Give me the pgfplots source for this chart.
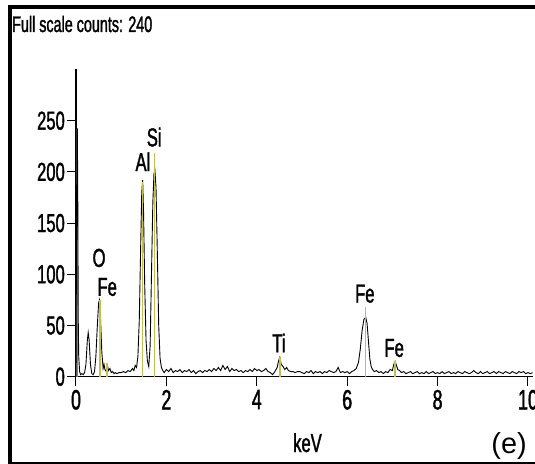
\documentclass[border=0pt]{standalone}
\usepackage{fontspec}
\setmainfont{Liberation Sans}
\newfontfamily\narrow[FakeStretch=0.64,FakeBold=1.4]{Liberation Sans}
\usepackage{pgfplots}
\pgfplotsset{compat=1.18}
\definecolor{elemline}{RGB}{196,190,80}
\begin{document}
\begin{tikzpicture}
\path[use as bounding box] (-76bp,-87.3bp) rectangle (459bp,376.7bp);
\begin{axis}[
  scale only axis, width=456.5bp, height=307.2bp,
  xmin=0, xmax=10.1, ymin=0, ymax=300,
  axis x line*=bottom, axis y line*=left,
  xtick={0,2,4,6,8,10}, ytick={0,50,100,150,200,250},
  tick align=outside, major tick length=9bp,
  tick style={black, line width=1bp},
  axis line style={black, line width=1.2bp},
  /pgf/number format/assume math mode=true,
  xticklabel style={font=\narrow\fontsize{28}{28}\selectfont, inner sep=4bp},
  yticklabel style={font=\narrow\fontsize{26}{26}\selectfont, inner sep=2bp},
  clip=false,
]
\addplot[ycomb, gray, line width=2.5bp] coordinates {(0.02,242)};
\addplot[black, line width=0.9bp] coordinates {
(0.00,0) (0.01,120) (0.02,242) (0.03,242) (0.04,170) (0.05,55) (0.06,20) (0.08,5) (0.10,2) (0.13,3) (0.16,2) (0.19,4)
(0.22,12) (0.25,35) (0.27,43) (0.29,36) (0.32,12) (0.35,3) (0.38,2) (0.41,5) (0.44,20) (0.47,48) (0.50,72) (0.52,75)
(0.54,60) (0.57,25) (0.60,8) (0.62,12) (0.64,7) (0.67,5) (0.70,10) (0.72,6) (0.75,8) (0.78,4) (0.81,5) (0.84,3)
(0.87,4) (0.90,3) (0.95,4) (1.00,4) (1.05,5) (1.10,4) (1.15,6) (1.20,5) (1.25,8) (1.28,6) (1.31,11) (1.34,9)
(1.37,20) (1.40,55) (1.43,125) (1.455,180) (1.475,192) (1.495,160) (1.52,90) (1.55,35) (1.58,15) (1.61,10)
(1.64,30) (1.67,100) (1.70,170) (1.725,198) (1.745,202) (1.77,185) (1.80,120) (1.83,50) (1.86,18) (1.89,9) (1.92,6)
(1.95,4) (2.00,7) (2.05,5) (2.10,8) (2.15,4) (2.20,6) (2.25,5) (2.30,7) (2.35,4) (2.40,6) (2.45,5) (2.50,7)
(2.55,4) (2.60,6) (2.65,3) (2.70,5) (2.75,6) (2.80,4) (2.85,6) (2.90,5) (2.95,7) (3.00,5) (3.05,8) (3.10,6)
(3.15,9) (3.20,6) (3.25,11) (3.30,7) (3.35,10) (3.40,5) (3.45,8) (3.50,6) (3.55,7) (3.60,5) (3.65,6) (3.70,4)
(3.75,6) (3.80,5) (3.85,7) (3.90,5) (3.95,8) (4.00,6) (4.05,7) (4.10,5) (4.15,6) (4.20,8) (4.25,5) (4.30,4)
(4.35,2) (4.40,5) (4.45,9) (4.48,15) (4.51,19) (4.54,12) (4.58,10) (4.62,7) (4.66,9) (4.70,6) (4.75,5) (4.80,5)
(4.85,4) (4.90,5) (4.95,5) (5.00,4) (5.05,3) (5.10,5) (5.15,4) (5.20,6) (5.25,3) (5.30,5) (5.35,4) (5.40,5)
(5.45,3) (5.50,5) (5.55,4) (5.60,6) (5.65,5) (5.70,4) (5.75,5) (5.80,9) (5.85,4) (5.90,5) (5.95,4) (6.00,5)
(6.05,3) (6.10,5) (6.15,6) (6.20,8) (6.25,14) (6.29,27) (6.33,45) (6.37,56) (6.41,58) (6.44,52) (6.47,35) (6.50,18)
(6.53,10) (6.56,7) (6.60,5) (6.65,6) (6.70,4) (6.75,5) (6.80,3) (6.85,5) (6.90,4) (6.95,7) (7.00,6) (7.03,12)
(7.06,15) (7.09,11) (7.12,7) (7.16,6) (7.20,4) (7.25,5) (7.30,3) (7.35,4) (7.40,5) (7.45,3) (7.50,4) (7.55,5)
(7.60,3) (7.65,4) (7.70,3) (7.75,5) (7.80,3) (7.85,4) (7.90,5) (7.95,3) (8.00,4) (8.05,3) (8.10,5) (8.15,3)
(8.20,4) (8.25,5) (8.30,3) (8.35,4) (8.40,3) (8.45,5) (8.50,4) (8.55,3) (8.60,5) (8.65,4) (8.70,3) (8.75,4)
(8.80,6) (8.85,4) (8.90,3) (8.95,5) (9.00,3) (9.05,4) (9.10,5) (9.15,3) (9.20,4) (9.25,5) (9.30,3) (9.35,5)
(9.40,4) (9.45,3) (9.50,5) (9.55,4) (9.60,3) (9.65,5) (9.70,4) (9.75,3) (9.80,5) (9.85,4) (9.90,5) (9.95,3)
(10.00,4) (10.05,3) (10.10,4)
};
\addplot[ycomb, elemline, line width=1.4bp] coordinates {
(0.53,75) (0.69,13) (1.475,190) (1.74,218) (4.51,19) (6.40,68) (7.06,15)
};
\begin{scope}[every node/.style={font=\narrow\fontsize{26}{26}\selectfont, inner sep=0pt}]
\node at (axis cs:0.51,116) {O};
\node at (axis cs:0.69,87.6) {Fe};
\node at (axis cs:1.48,210) {Al};
\node at (axis cs:1.73,234) {Si};
\node at (axis cs:4.49,33) {Ti};
\node at (axis cs:6.39,81) {Fe};
\node at (axis cs:7.04,28) {Fe};
\end{scope}
\end{axis}
\draw[line width=4bp] (-66bp,-88bp) -- (-66bp,371.7bp);
\draw[line width=4bp] (-68bp,369.7bp) -- (460bp,369.7bp);
\draw[line width=3bp] (-68bp,-86.3bp) -- (460bp,-86.3bp);
\node[anchor=base west, inner sep=0pt] at (-64bp,344.7bp) {\narrow\fontsize{22.5}{22.5}\selectfont Full scale counts: 240};
\node[anchor=base, inner sep=0pt] at (231.5bp,-75.3bp) {\narrow\fontsize{26}{26}\selectfont keV};
\node[anchor=base east, inner sep=0pt] at (451bp,-76.3bp) {\fontsize{29}{29}\selectfont (e)};
\end{tikzpicture}
\end{document}
